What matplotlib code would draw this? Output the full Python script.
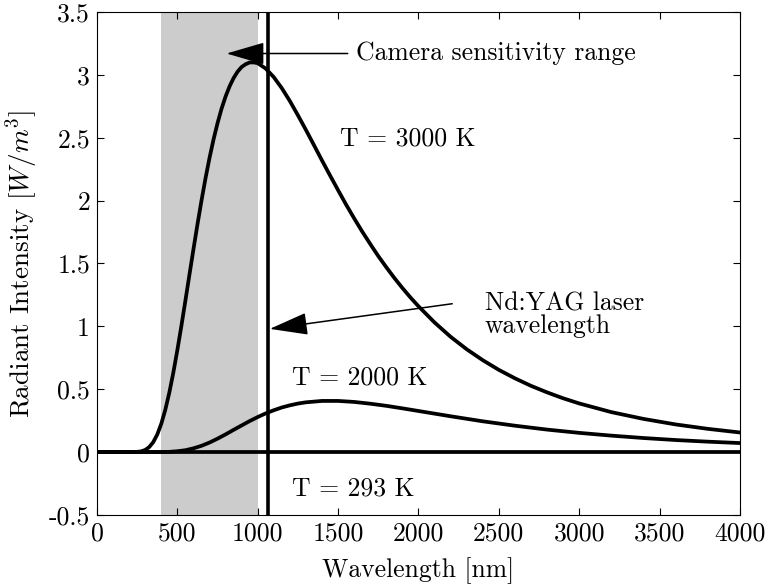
import matplotlib
matplotlib.use('Agg')
import matplotlib.pyplot as plt

# wavelength [nm] and radiant intensity
wl_3000 = [0, 100, 200, 250, 275, 300, 325, 350, 375, 400, 425, 450, 475, 500,
           525, 550, 575, 600, 625, 650, 675, 700, 725, 750, 775, 800, 825,
           850, 875, 900, 925, 950, 975, 1000, 1050, 1100, 1150, 1200, 1250,
           1300, 1350, 1400, 1450, 1500, 1550, 1600, 1650, 1700, 1750, 1800,
           1850, 1900, 1950, 2000, 2100, 2200, 2300, 2400, 2500, 2600, 2700,
           2800, 2900, 3000, 3200, 3400, 3600, 3800, 4000]
int_3000 = [0, 0, 0.0001, 0.002, 0.006, 0.017, 0.040, 0.079, 0.140, 0.225,
            0.336, 0.473, 0.632, 0.811, 1.003, 1.204, 1.409, 1.612, 1.810,
            1.999, 2.176, 2.339, 2.486, 2.616, 2.731, 2.828, 2.909, 2.975,
            3.026, 3.063, 3.085, 3.099, 3.099, 3.093, 3.050, 2.982, 2.894,
            2.792, 2.679, 2.562, 2.441, 2.319, 2.200, 2.083, 1.968, 1.859,
            1.754, 1.655, 1.559, 1.470, 1.385, 1.305, 1.230, 1.160, 1.031,
            0.917, 0.818, 0.731, 0.654, 0.587, 0.527, 0.475, 0.428, 0.387,
            0.318, 0.264, 0.220, 0.185, 0.156]

wl_2000 = [0, 300, 400, 450, 500, 550, 600, 650, 700, 750, 800, 850, 900, 950,
           1000, 1050, 1100, 1150, 1200, 1250, 1300, 1400, 1500, 1600, 1700,
           1800, 1900, 2000, 2200, 2400, 2600, 2800, 3000, 3200, 3400, 3600,
           3800, 4000]
int_2000 = [0, 0, 0.0006, 0.002, 0.007, 0.015, 0.030, 0.050, 0.076, 0.107,
            0.141, 0.177, 0.212, 0.247, 0.279, 0.308, 0.333, 0.355, 0.372,
            0.386, 0.396, 0.407, 0.407, 0.399, 0.385, 0.368, 0.348, 0.327,
            0.285, 0.245, 0.210, 0.179, 0.153, 0.131, 0.112, 0.096, 0.083,
            0.072]

wl_293 = [0, 1000, 2000, 3000, 4000]
int_293 = [0, 0, 0, 0, 0]

camera_range = [400, 1000]
laser_wl = 1064

xticks = [0, 500, 1000, 1500, 2000, 2500, 3000, 3500, 4000]
xtick_labels = ['0', '500', '1000', '1500', '2000', '2500', '3000', '3500', '4000']
yticks = [-0.5, 0, 0.5, 1, 1.5, 2, 2.5, 3, 3.5]
ytick_labels = ['-0.5', '0', '0.5', '1', '1.5', '2', '2.5', '3', '3.5']

plt.rcParams['font.family'] = 'cmr10'
plt.rcParams['mathtext.fontset'] = 'cm'
plt.rcParams['axes.formatter.use_mathtext'] = True
plt.rcParams['axes.unicode_minus'] = False
plt.rcParams['font.size'] = 18.5

fig = plt.figure(figsize=(7.66, 5.86), dpi=100)
ax = fig.add_axes([0.1266, 0.1212, 0.966 - 0.1266, 0.9795 - 0.1212])

ax.axvspan(camera_range[0], camera_range[1], color='#cccccc', lw=0, zorder=0)
ax.axvline(laser_wl, color='black', lw=2.6)

ax.plot(wl_3000, int_3000, color='black', lw=2.7)
ax.plot(wl_2000, int_2000, color='black', lw=2.7)
ax.plot(wl_293, int_293, color='black', lw=2.7)

arrow = dict(arrowstyle='-|>,head_length=1.2,head_width=0.35', mutation_scale=20,
             color='black', lw=1.1, shrinkA=0, shrinkB=0)
ax.annotate('', xy=(806, 3.17), xytext=(1560, 3.17), arrowprops=arrow)
ax.annotate('', xy=(1075, 0.98), xytext=(2210, 1.18), arrowprops=arrow)

ax.text(1612, 3.17, 'Camera sensitivity range', ha='left', va='center')
ax.text(1512, 2.49, 'T = 3000 K', ha='left', va='center')
ax.text(2412, 1.18, 'Nd:YAG laser', ha='left', va='center')
ax.text(2412, 1.0, 'wavelength', ha='left', va='center')
ax.text(1212, 0.595, 'T = 2000 K', ha='left', va='center')
ax.text(1212, -0.29, 'T = 293 K', ha='left', va='center')

ax.set_xlim(0, 4000)
ax.set_ylim(-0.5, 3.5)
ax.set_xticks(xticks)
ax.set_xticklabels(xtick_labels)
ax.set_yticks(yticks)
ax.set_yticklabels(ytick_labels)
ax.tick_params(direction='in', top=True, right=True, length=5, width=0.8, pad=5)
ax.set_xlabel('Wavelength [nm]', labelpad=8)
ax.set_ylabel('Radiant Intensity [$W/m^3$]', labelpad=6, fontsize=19.5)

fig.savefig('out.png', dpi=100)
